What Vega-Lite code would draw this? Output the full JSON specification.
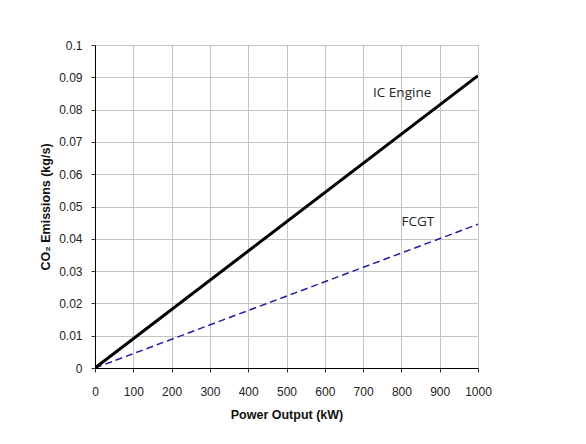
{
  "$schema": "https://vega.github.io/schema/vega-lite/v6.json",
  "autosize": {"type": "none"},
  "padding": {"left": 95, "top": 45, "right": 108, "bottom": 76},
  "width": 383,
  "height": 323,
  "background": "white",
  "config": {
    "view": {"stroke": "#bdbdbd", "strokeWidth": 1},
    "axis": {
      "labelFont": "Liberation Sans",
      "labelFontSize": 12,
      "labelColor": "#222222",
      "labelOverlap": false,
      "labelFlush": false,
      "titleFont": "Liberation Sans",
      "titleFontSize": 12.5,
      "titleFontWeight": "bold",
      "titleColor": "#111111",
      "gridColor": "#c4c4c4",
      "gridWidth": 1,
      "domainColor": "#000000",
      "domainWidth": 1,
      "tickColor": "#333333",
      "tickSize": 4
    }
  },
  "datasets": {
    "emissions": [
      {"engine": "IC Engine", "power": 0, "co2": 0},
      {"engine": "IC Engine", "power": 1000, "co2": 0.0905},
      {"engine": "FCGT", "power": 0, "co2": 0},
      {"engine": "FCGT", "power": 1000, "co2": 0.0445}
    ],
    "annotations": [
      {"text": "IC Engine", "power": 802, "co2": 0.0840},
      {"text": "FCGT", "power": 843, "co2": 0.0439}
    ]
  },
  "encoding": {
    "x": {
      "field": "power",
      "type": "quantitative",
      "scale": {"domain": [0, 1000], "nice": false},
      "axis": {
        "values": [0, 100, 200, 300, 400, 500, 600, 700, 800, 900, 1000],
        "format": "d",
        "title": "Power Output (kW)",
        "labelPadding": 14,
        "titlePadding": 11
      }
    },
    "y": {
      "field": "co2",
      "type": "quantitative",
      "scale": {"domain": [0, 0.1], "nice": false},
      "axis": {
        "values": [0, 0.01, 0.02, 0.03, 0.04, 0.05, 0.06, 0.07, 0.08, 0.09, 0.1],
        "format": "~g",
        "title": "CO₂ Emissions (kg/s)",
        "labelPadding": 9,
        "titlePadding": 6
      }
    }
  },
  "layer": [
    {
      "data": {"name": "emissions"},
      "transform": [{"filter": "datum.engine === 'FCGT'"}],
      "mark": {"type": "line", "color": "#1f1f9e", "strokeWidth": 1.5, "strokeDash": [7, 4], "clip": true}
    },
    {
      "data": {"name": "emissions"},
      "transform": [{"filter": "datum.engine === 'IC Engine'"}],
      "mark": {"type": "line", "color": "#000000", "strokeWidth": 3, "clip": true}
    },
    {
      "data": {"name": "annotations"},
      "mark": {"type": "text", "font": "Open Sans", "fontSize": 13.5, "color": "#262626", "align": "center", "baseline": "alphabetic"},
      "encoding": {
        "text": {"field": "text"}
      }
    }
  ]
}
